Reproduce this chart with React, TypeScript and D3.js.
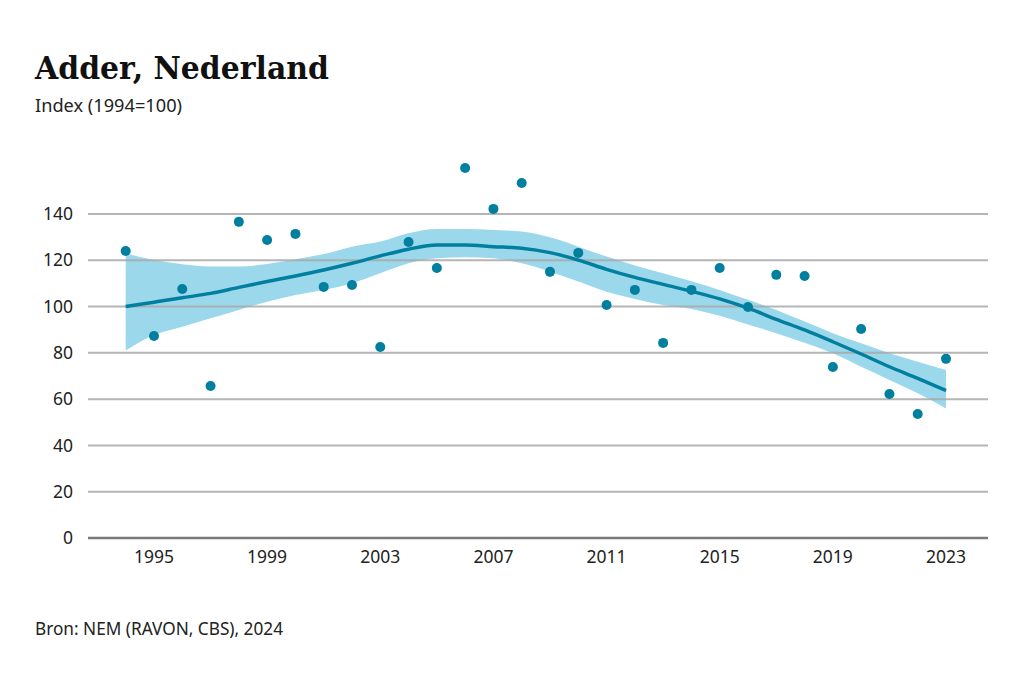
import React from "react";
import * as d3 from "d3";

const years = d3.range(1994, 2024);
const observed = [124.0, 87.3, 107.6, 65.7, 136.6, 128.8, 131.4, 108.5, 109.3, 82.5, 127.9, 116.7, 159.9, 142.2, 153.4, 115.0, 123.2, 100.7, 107.2, 84.3, 107.2, 116.7, 99.8, 113.7, 113.2, 73.9, 90.3, 62.2, 53.6, 77.4];
const trend = [100.0, 101.9, 103.8, 105.7, 108.3, 110.8, 113.2, 115.8, 118.7, 121.9, 124.8, 126.6, 126.6, 125.9, 125.2, 123.3, 120.1, 116.1, 112.6, 109.6, 106.6, 103.3, 99.3, 94.5, 89.9, 84.8, 79.5, 74.0, 69.0, 63.7];
const upper = [123.0, 120.1, 118.3, 117.3, 117.3, 118.4, 120.4, 122.7, 125.9, 128.1, 131.7, 133.5, 133.5, 133.1, 132.4, 129.9, 125.9, 121.6, 117.8, 114.4, 110.9, 107.2, 102.9, 98.5, 93.5, 88.5, 84.1, 79.8, 76.2, 72.6];
const lower = [81.0, 87.7, 91.3, 94.9, 98.5, 102.1, 105.0, 107.2, 110.1, 114.4, 118.7, 120.9, 121.3, 120.9, 118.7, 115.1, 110.8, 106.4, 103.3, 100.7, 99.0, 96.0, 92.3, 88.5, 84.4, 79.8, 74.0, 68.3, 62.5, 56.0];
const yTicks = [0, 20, 40, 60, 80, 100, 120, 140];
const xTicks = [1995, 1999, 2003, 2007, 2011, 2015, 2019, 2023];

const W = 1024;
const H = 681;
const sans = "'Noto Sans', 'Open Sans', sans-serif";

export default function App() {
  const x = d3.scaleLinear().domain([1994, 2023]).range([125.7, 946]);
  const y = d3.scaleLinear().domain([0, 140]).range([538, 214]);

  const area = d3
    .area<number>()
    .x((_, i) => x(years[i]))
    .y0((_, i) => y(lower[i]))
    .y1((_, i) => y(upper[i]))
    .curve(d3.curveMonotoneX);
  const line = d3
    .line<number>()
    .x((_, i) => x(years[i]))
    .y((d) => y(d))
    .curve(d3.curveMonotoneX);

  return (
    <svg
      width={W}
      height={H}
      style={{ position: "absolute", left: 0, top: 0, background: "#fff" }}
    >
      <text x={35} y={79} fontFamily="'DejaVu Serif', serif" fontWeight="bold" fontSize={31} fill="#111" textLength={294} lengthAdjust="spacingAndGlyphs">
        Adder, Nederland
      </text>
      <text x={35} y={112} fontFamily={sans} fontSize={17.5} fill="#222" textLength={147} lengthAdjust="spacingAndGlyphs">
        Index (1994=100)
      </text>

      <path d={area(upper) || ""} fill="#9bd8eb" />

      {yTicks.map((t) => (
        <g key={t}>
          <line
            x1={88}
            x2={988}
            y1={y(t)}
            y2={y(t)}
            stroke={t === 0 ? "#7a7a7a" : "#a8a8a8"}
            strokeOpacity={t === 0 ? 1 : 0.85}
            strokeWidth={t === 0 ? 2.4 : 2}
          />
          <text
            x={73}
            y={y(t)}
            dy="0.35em"
            textAnchor="end"
            fontFamily={sans}
            fontSize={17.5}
            fill="#222"
          >
            {t}
          </text>
        </g>
      ))}

      {xTicks.map((t) => (
        <text
          key={t}
          x={x(t)}
          y={563}
          textAnchor="middle"
          fontFamily={sans}
          fontSize={17.5}
          fill="#222"
        >
          {t}
        </text>
      ))}

      <path d={line(trend) || ""} fill="none" stroke="#007f9f" strokeWidth={3.5} />

      {observed.map((v, i) => (
        <circle key={i} cx={x(years[i])} cy={y(v)} r={5} fill="#007f9f" />
      ))}

      <text x={35} y={635} fontFamily={sans} fontSize={17.5} fill="#222" textLength={248} lengthAdjust="spacingAndGlyphs">
        Bron: NEM (RAVON, CBS), 2024
      </text>
    </svg>
  );
}
